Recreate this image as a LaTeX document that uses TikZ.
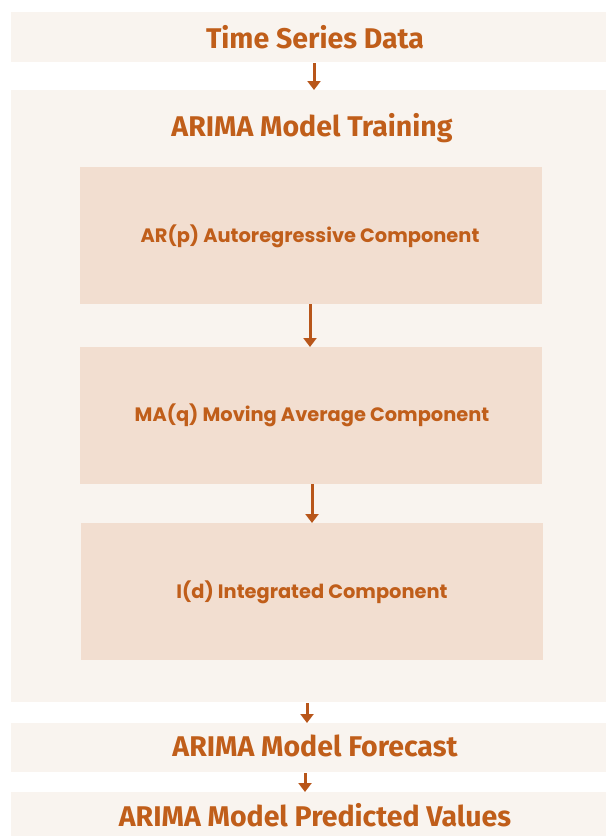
\documentclass[tikz,border=0pt]{standalone}
\usepackage{fontspec}
\setmainfont{Fira Sans}
\newfontfamily\compfont{Poppins}
\usetikzlibrary{arrows.meta}
\definecolor{barfill}{RGB}{249,244,239}
\definecolor{compfill}{RGB}{242,222,208}
\definecolor{ink}{RGB}{192,94,26}
\definecolor{arrowink}{RGB}{184,86,26}
\tikzset{
  bar/.style={fill=barfill, draw=none},
  compbox/.style={fill=compfill, draw=none},
  headtext/.style={text=ink, font=\fontsize{28.5}{32}\selectfont\bfseries, inner sep=0pt},
  comptext/.style={text=ink, font=\compfont\fontsize{19.4}{23}\selectfont\bfseries, inner sep=0pt},
  flow/.style={draw=arrowink, line width=3pt, -{Triangle[width=13pt,length=9pt]}},
}
\begin{document}
\begin{tikzpicture}[x=1pt,y=-1pt]
  \useasboundingbox[fill=white] (0,0) rectangle (606,836);
  % outer bands
  \fill[bar] (11,12) rectangle (606,62);
  \fill[bar] (11,90) rectangle (606,702);
  \fill[bar] (11,723) rectangle (606,772);
  \fill[bar] (11,792) rectangle (606,836);
  % component boxes
  \fill[compbox] (80,167) rectangle (542,304);
  \fill[compbox] (80,347) rectangle (542,484);
  \fill[compbox] (81,523) rectangle (543,660);
  % anchor points for the connectors
  \coordinate (tsB) at (314,63);
  \coordinate (trT) at (314,90);
  \coordinate (arB) at (310,304);
  \coordinate (maT) at (310,347);
  \coordinate (maB) at (312,484);
  \coordinate (idT) at (312,523);
  \coordinate (trB) at (307,703);
  \coordinate (fcT) at (307,723);
  \coordinate (fcB) at (305,773);
  \coordinate (pvT) at (305,792);
  % labels
  \node[headtext] (ts) at (315,37) {Time Series Data};
  \node[headtext] (tr) at (312,128) {ARIMA Model Training};
  \node[comptext] (ar) at (310,236) {AR(p) Autoregressive Component};
  \node[comptext] (ma) at (312,415) {MA(q) Moving Average Component};
  \node[comptext] (id) at (312,592) {I(d) Integrated Component};
  \node[headtext] (fc) at (315,746) {ARIMA Model Forecast};
  \node[headtext] (pv) at (315,815) {ARIMA Model Predicted Values};
  % connectors
  \draw[flow] (tsB) -- (trT);
  \draw[flow] (arB) -- (maT);
  \draw[flow] (maB) -- (idT);
  \draw[flow] (trB) -- (fcT);
  \draw[flow] (fcB) -- (pvT);
\end{tikzpicture}
\end{document}
